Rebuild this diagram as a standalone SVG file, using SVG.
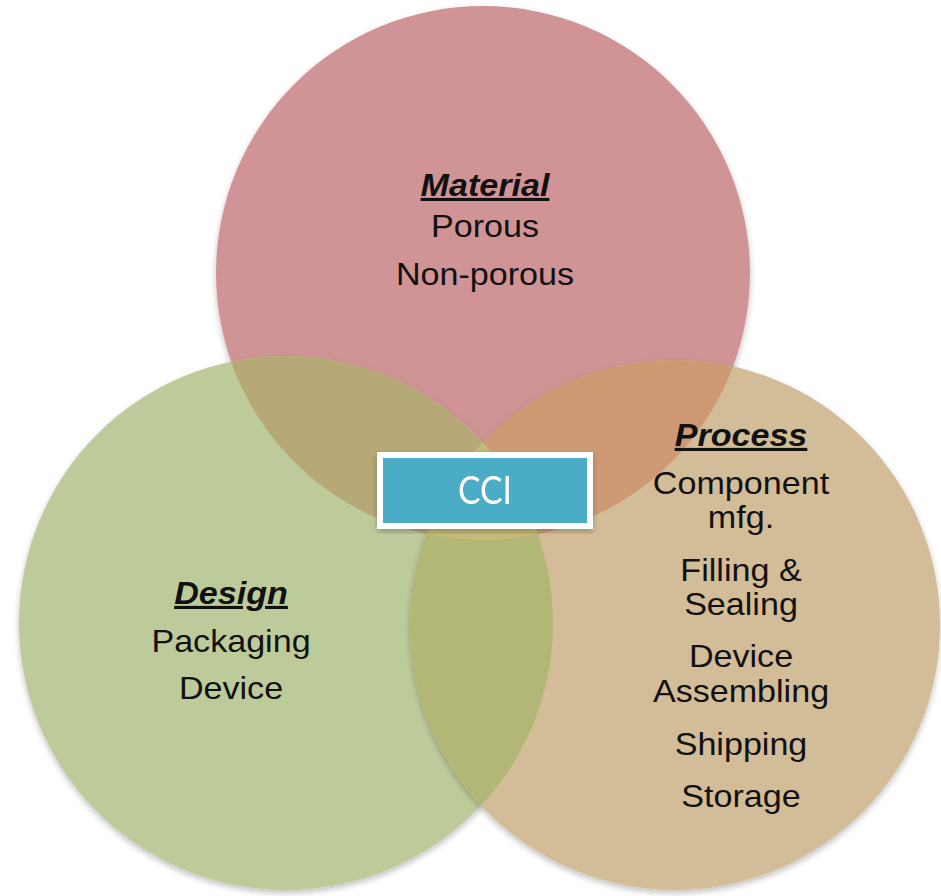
<svg xmlns="http://www.w3.org/2000/svg" width="941" height="896" viewBox="0 0 941 896">
<style>
.lbl{font-family:"Liberation Sans",Arial,sans-serif;font-size:31px;fill:#111;text-anchor:middle}
.hd{font-weight:bold;font-style:italic;text-decoration:underline}
.cci{font-family:Lato,"Open Sans",sans-serif;font-size:39px;fill:#fff;text-anchor:middle}
</style>
<defs>
<circle id="cM" cx="483" cy="273" r="267"/>
<circle id="cD" cx="286" cy="623" r="267"/>
<circle id="cP" cx="675" cy="625" r="265"/>
<clipPath id="clipM"><use href="#cM"/></clipPath>
<clipPath id="clipD"><use href="#cD"/></clipPath>
<clipPath id="clipMD" clip-path="url(#clipM)"><use href="#cD"/></clipPath>
<filter id="sh" x="-10%" y="-10%" width="120%" height="120%">
<feGaussianBlur in="SourceAlpha" stdDeviation="3"/>
<feOffset dx="0" dy="3" result="b"/>
<feComponentTransfer><feFuncA type="linear" slope="0.25"/></feComponentTransfer>
<feMerge><feMergeNode/><feMergeNode in="SourceGraphic"/></feMerge>
</filter>
</defs>
<rect width="941" height="896" fill="#fff"/>
<g id="material-circle"><use href="#cM" fill="#D19496" filter="url(#sh)"/></g>
<g id="design-circle"><use href="#cD" fill="#BDCB9B" filter="url(#sh)"/></g>
<g id="process-circle"><use href="#cP" fill="#D3BD98" filter="url(#sh)"/></g>
<g id="overlaps">
<use href="#cD" fill="#B7A878" clip-path="url(#clipM)"/>
<use href="#cP" fill="#CD9A73" clip-path="url(#clipM)"/>
<use href="#cP" fill="#B2B776" clip-path="url(#clipD)"/>
<use href="#cP" fill="#C4BB78" clip-path="url(#clipMD)"/>
</g>
<g id="material">
<g transform="translate(485,0) scale(1.1,1)">
<text class="lbl hd" x="0" y="196">Material</text>
<text class="lbl" x="0" y="237">Porous</text>
<text class="lbl" x="0" y="285">Non-porous</text>
</g>
</g>
<g id="design">
<g transform="translate(231,0) scale(1.1,1)">
<text class="lbl hd" x="0" y="604">Design</text>
<text class="lbl" x="0" y="652">Packaging</text>
<text class="lbl" x="0" y="699">Device</text>
</g>
</g>
<g id="process">
<g transform="translate(741,0) scale(1.1,1)">
<text class="lbl hd" x="0" y="446">Process</text>
<text class="lbl" x="0" y="494">Component</text>
<text class="lbl" x="0" y="528">mfg.</text>
<text class="lbl" x="0" y="581">Filling &amp;</text>
<text class="lbl" x="0" y="615">Sealing</text>
<text class="lbl" x="0" y="667">Device</text>
<text class="lbl" x="0" y="702">Assembling</text>
<text class="lbl" x="0" y="755">Shipping</text>
<text class="lbl" x="0" y="807">Storage</text>
</g>
</g>
<g id="cci" filter="url(#sh)">
<rect x="380" y="455" width="210" height="71" fill="#4BACC6" stroke="#fff" stroke-width="6"/>
<text class="cci" x="485" y="504" textLength="54" lengthAdjust="spacingAndGlyphs">CCI</text>
</g>
</svg>
